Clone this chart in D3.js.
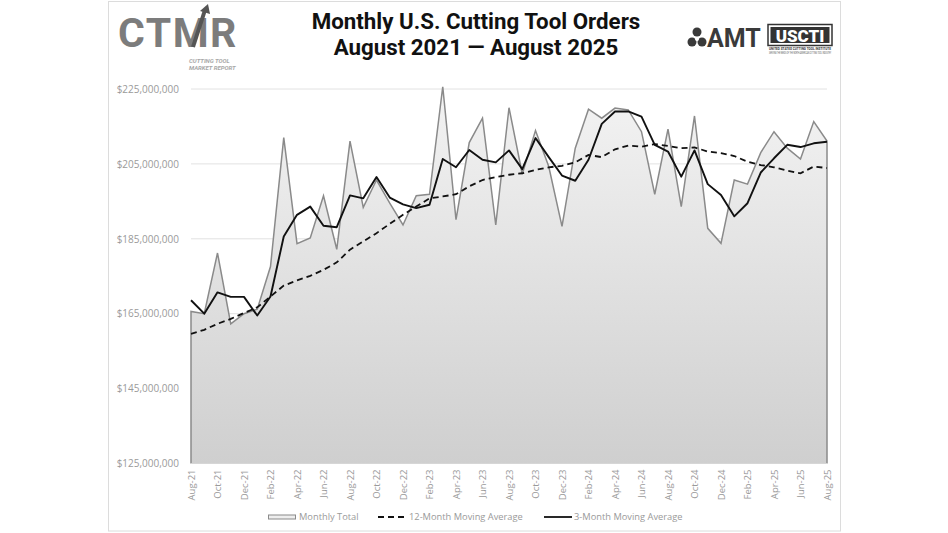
<!DOCTYPE html>
<html>
<head>
<meta charset="utf-8">
<script src="https://cdn.jsdelivr.net/npm/d3@7"></script>
<style>
  html, body { margin: 0; padding: 0; background: #fff; }
  svg { display: block; }
</style>
</head>
<body>
<svg id="chart" width="948" height="533"></svg>
<script>
// ---- Data (values in millions of US dollars) ----
const months = ["Aug-21","Sep-21","Oct-21","Nov-21","Dec-21","Jan-22","Feb-22","Mar-22","Apr-22","May-22","Jun-22","Jul-22",
  "Aug-22","Sep-22","Oct-22","Nov-22","Dec-22","Jan-23","Feb-23","Mar-23","Apr-23","May-23","Jun-23","Jul-23",
  "Aug-23","Sep-23","Oct-23","Nov-23","Dec-23","Jan-24","Feb-24","Mar-24","Apr-24","May-24","Jun-24","Jul-24",
  "Aug-24","Sep-24","Oct-24","Nov-24","Dec-24","Jan-25","Feb-25","Mar-25","Apr-25","May-25","Jun-25","Jul-25","Aug-25"];

const monthlyTotal = [165.6,165.0,181.2,162.3,165.0,166.2,177.6,212.0,183.7,185.2,196.5,182.2,
  211.1,193.4,200.7,194.5,188.7,196.5,196.9,225.6,190.1,210.7,217.2,188.7,
  220.0,202.3,213.9,204.3,188.3,209.2,219.6,217.2,219.9,219.4,213.6,196.9,
  214.3,193.6,217.8,187.8,183.8,200.7,199.6,208.0,213.6,209.2,206.3,216.3,211.1];

const movingAvg12 = [159.6,160.7,162.3,163.6,165.2,166.7,169.6,172.5,173.9,175.1,176.7,178.7,
  182.1,184.3,186.5,189.0,191.4,193.6,195.8,196.3,196.9,199.0,200.7,201.5,
  202.1,202.5,203.4,204.1,204.5,205.4,207.4,206.8,208.9,209.9,209.6,210.3,
  209.8,209.2,209.4,208.3,207.9,207.1,205.6,204.7,204.1,203.2,202.5,204.3,203.9];

const movingAvg3 = [168.6,165.0,170.7,169.5,169.5,164.5,169.6,185.6,191.4,193.6,188.5,188.1,
  196.6,195.8,201.5,196.0,194.2,193.2,194.1,206.3,204.1,208.7,206.1,205.4,
  208.6,203.6,211.9,206.8,201.9,200.5,206.1,215.7,219.0,219.0,217.6,210.1,
  208.3,201.6,208.6,199.6,196.7,191.0,194.5,202.7,206.5,210.1,209.5,210.5,210.9];

const yTicks = [125, 145, 165, 185, 205, 225];
const xTickLabels = ["Aug-21","Oct-21","Dec-21","Feb-22","Apr-22","Jun-22","Aug-22","Oct-22","Dec-22",
  "Feb-23","Apr-23","Jun-23","Aug-23","Oct-23","Dec-23","Feb-24","Apr-24","Jun-24","Aug-24",
  "Oct-24","Dec-24","Feb-25","Apr-25","Jun-25","Aug-25"];
const legendLabels = ["Monthly Total", "12-Month Moving Average", "3-Month Moving Average"];

// ---- Layout ----
const svg = d3.select("#chart");
const font = "'Open Sans', 'DejaVu Sans', sans-serif";

// outer frame
svg.append("rect").attr("x", 108.5).attr("y", 1.5).attr("width", 732).attr("height", 529.5)
  .attr("fill", "#fff").attr("stroke", "#dcdcdc").attr("stroke-width", 1);

const x = d3.scalePoint().domain(months).range([191, 827]).padding(0);
const y = d3.scaleLinear().domain([125, 225]).range([463.5, 89]);

// gradient
const defs = svg.append("defs");
const grad = defs.append("linearGradient").attr("id", "areaGrad")
  .attr("gradientUnits", "userSpaceOnUse").attr("x1", 0).attr("y1", y(225)).attr("x2", 0).attr("y2", y(125));
grad.append("stop").attr("offset", "0%").attr("stop-color", "#f3f3f3");
grad.append("stop").attr("offset", "100%").attr("stop-color", "#cfcfcf");

// gridlines
svg.append("g").selectAll("line").data(yTicks.filter(d => d !== 125)).join("line")
  .attr("x1", 191).attr("x2", 827)
  .attr("y1", d => y(d)).attr("y2", d => y(d))
  .attr("stroke", "#e2e2e2").attr("stroke-width", 1);

// y axis labels
const yAxis = d3.axisLeft(y).tickValues(yTicks).tickSize(0).tickPadding(12)
  .tickFormat(d => "$" + d3.format(",")(d * 1e6));
const gy = svg.append("g").attr("transform", "translate(191,0)").call(yAxis);
gy.select(".domain").remove();
gy.selectAll("text").attr("font-family", font).attr("font-size", 10).attr("fill", "#9a9a9a");

// area
const area = d3.area().x((d, i) => x(months[i])).y0(y(125)).y1(d => y(d));
svg.append("path").datum(monthlyTotal).attr("d", area).attr("fill", "url(#areaGrad)");

// monthly outline with edges
const outline = [[x(months[0]), y(125)]].concat(monthlyTotal.map((d, i) => [x(months[i]), y(d)]))
  .concat([[x(months[months.length - 1]), y(125)]]);
svg.append("path").attr("d", d3.line()(outline)).attr("fill", "none")
  .attr("stroke", "#8a8a8a").attr("stroke-width", 1.5).attr("stroke-linejoin", "miter");

// bottom baseline subtle
svg.append("line").attr("x1", 191).attr("x2", 827).attr("y1", y(125)).attr("y2", y(125))
  .attr("stroke", "#d6d6d6").attr("stroke-width", 1);

const line = d3.line().x((d, i) => x(months[i])).y(d => y(d));
svg.append("path").datum(movingAvg12).attr("d", line).attr("fill", "none")
  .attr("stroke", "#111").attr("stroke-width", 1.8).attr("stroke-dasharray", "6,4");
svg.append("path").datum(movingAvg3).attr("d", line).attr("fill", "none")
  .attr("stroke", "#111").attr("stroke-width", 1.9).attr("stroke-linejoin", "round");

// x axis labels
const xAxis = d3.axisBottom(x).tickValues(xTickLabels).tickSize(0).tickPadding(0);
const gx = svg.append("g").attr("transform", `translate(0,${y(125)})`).call(xAxis);
gx.select(".domain").remove();
gx.selectAll("text").attr("font-family", font).attr("font-size", 9.5).attr("fill", "#9a9a9a")
  .attr("text-anchor", "end").attr("transform", "rotate(-90)")
  .attr("x", -6).attr("y", 0).attr("dy", "0.35em");

// legend
const lg = svg.append("g").attr("font-family", font).attr("font-size", 9.3).attr("fill", "#9a9a9a");
lg.append("rect").attr("x", 268.5).attr("y", 515).attr("width", 27).attr("height", 4)
  .attr("fill", "#eeeeee").attr("stroke", "#8a8a8a").attr("stroke-width", 1);
lg.append("text").attr("x", 299).attr("y", 517).attr("dy", "0.35em").text(legendLabels[0]);
lg.append("line").attr("x1", 378).attr("x2", 407).attr("y1", 517).attr("y2", 517)
  .attr("stroke", "#111").attr("stroke-width", 1.8).attr("stroke-dasharray", "6,4");
lg.append("text").attr("x", 409).attr("y", 517).attr("dy", "0.35em").text(legendLabels[1]);
lg.append("line").attr("x1", 544).attr("x2", 572).attr("y1", 517).attr("y2", 517)
  .attr("stroke", "#111").attr("stroke-width", 1.8);
lg.append("text").attr("x", 574).attr("y", 517).attr("dy", "0.35em").text(legendLabels[2]);

// title
const tg = svg.append("g").attr("font-family", "Roboto, 'Liberation Sans', sans-serif")
  .attr("font-weight", 700).attr("font-size", 22.3).attr("fill", "#111").attr("text-anchor", "middle");
tg.append("text").attr("x", 476).attr("y", 29).text("Monthly U.S. Cutting Tool Orders");
tg.append("text").attr("x", 476).attr("y", 55).text("August 2021 \u2014 August 2025");

// CTMR logo (approximation)
const ctmr = svg.append("g");
ctmr.append("text").attr("x", 118).attr("y", 47).attr("font-family", "Roboto, sans-serif")
  .attr("font-weight", 700).attr("font-size", 41).attr("fill", "#7c7c7c").attr("letter-spacing", 1.5).text("CTMR");
ctmr.append("path").attr("d", "M193,47 L205,10").attr("stroke", "#555").attr("stroke-width", 4).attr("fill", "none");
ctmr.append("path").attr("d", "M200,11 L208,4 L210,14 Z").attr("fill", "#555");
ctmr.append("g").attr("font-family", "Roboto, sans-serif").attr("font-style", "italic").attr("font-weight", 700)
  .attr("font-size", 6).attr("fill", "#a8a8a8")
  .call(g => {
    g.append("text").attr("x", 189).attr("y", 63).text("CUTTING TOOL");
    g.append("text").attr("x", 189).attr("y", 69.5).text("MARKET REPORT");
  });

// AMT logo (approximation)
const amt = svg.append("g");
amt.append("g").attr("fill", "#3a3a3a").call(g => {
  g.append("circle").attr("cx", 697).attr("cy", 32).attr("r", 4.5);
  g.append("circle").attr("cx", 692).attr("cy", 42).attr("r", 4.5);
  g.append("circle").attr("cx", 702).attr("cy", 42).attr("r", 4.5);
});
amt.append("circle").attr("cx", 697).attr("cy", 39).attr("r", 2).attr("fill", "#fff");
amt.append("text").attr("x", 707).attr("y", 47).attr("font-family", "Roboto, sans-serif")
  .attr("font-weight", 700).attr("font-size", 25).attr("fill", "#3a3a3a").text("AMT");
amt.append("rect").attr("x", 768).attr("y", 24.5).attr("width", 64).attr("height", 21)
  .attr("fill", "#fff").attr("stroke", "#333").attr("stroke-width", 1.5);
amt.append("rect").attr("x", 770.5).attr("y", 27).attr("width", 59).attr("height", 16).attr("fill", "#333");
amt.append("text").attr("x", 800).attr("y", 41.5).attr("text-anchor", "middle").attr("font-family", "Roboto, sans-serif")
  .attr("font-weight", 900).attr("font-size", 17).attr("fill", "#fff").text("USCTI");
amt.append("text").attr("x", 769).attr("y", 50).attr("font-family", "Roboto, sans-serif")
  .attr("font-weight", 700).attr("font-size", 4).attr("fill", "#333")
  .attr("textLength", 62).attr("lengthAdjust", "spacingAndGlyphs").text("UNITED STATES CUTTING TOOL INSTITUTE");
amt.append("text").attr("x", 769).attr("y", 54).attr("font-family", "Roboto, sans-serif")
  .attr("font-size", 2.6).attr("fill", "#555")
  .attr("textLength", 62).attr("lengthAdjust", "spacingAndGlyphs").text("SERVING THE NEEDS OF THE NORTH AMERICAN CUTTING TOOL INDUSTRY");
</script>
</body>
</html>
